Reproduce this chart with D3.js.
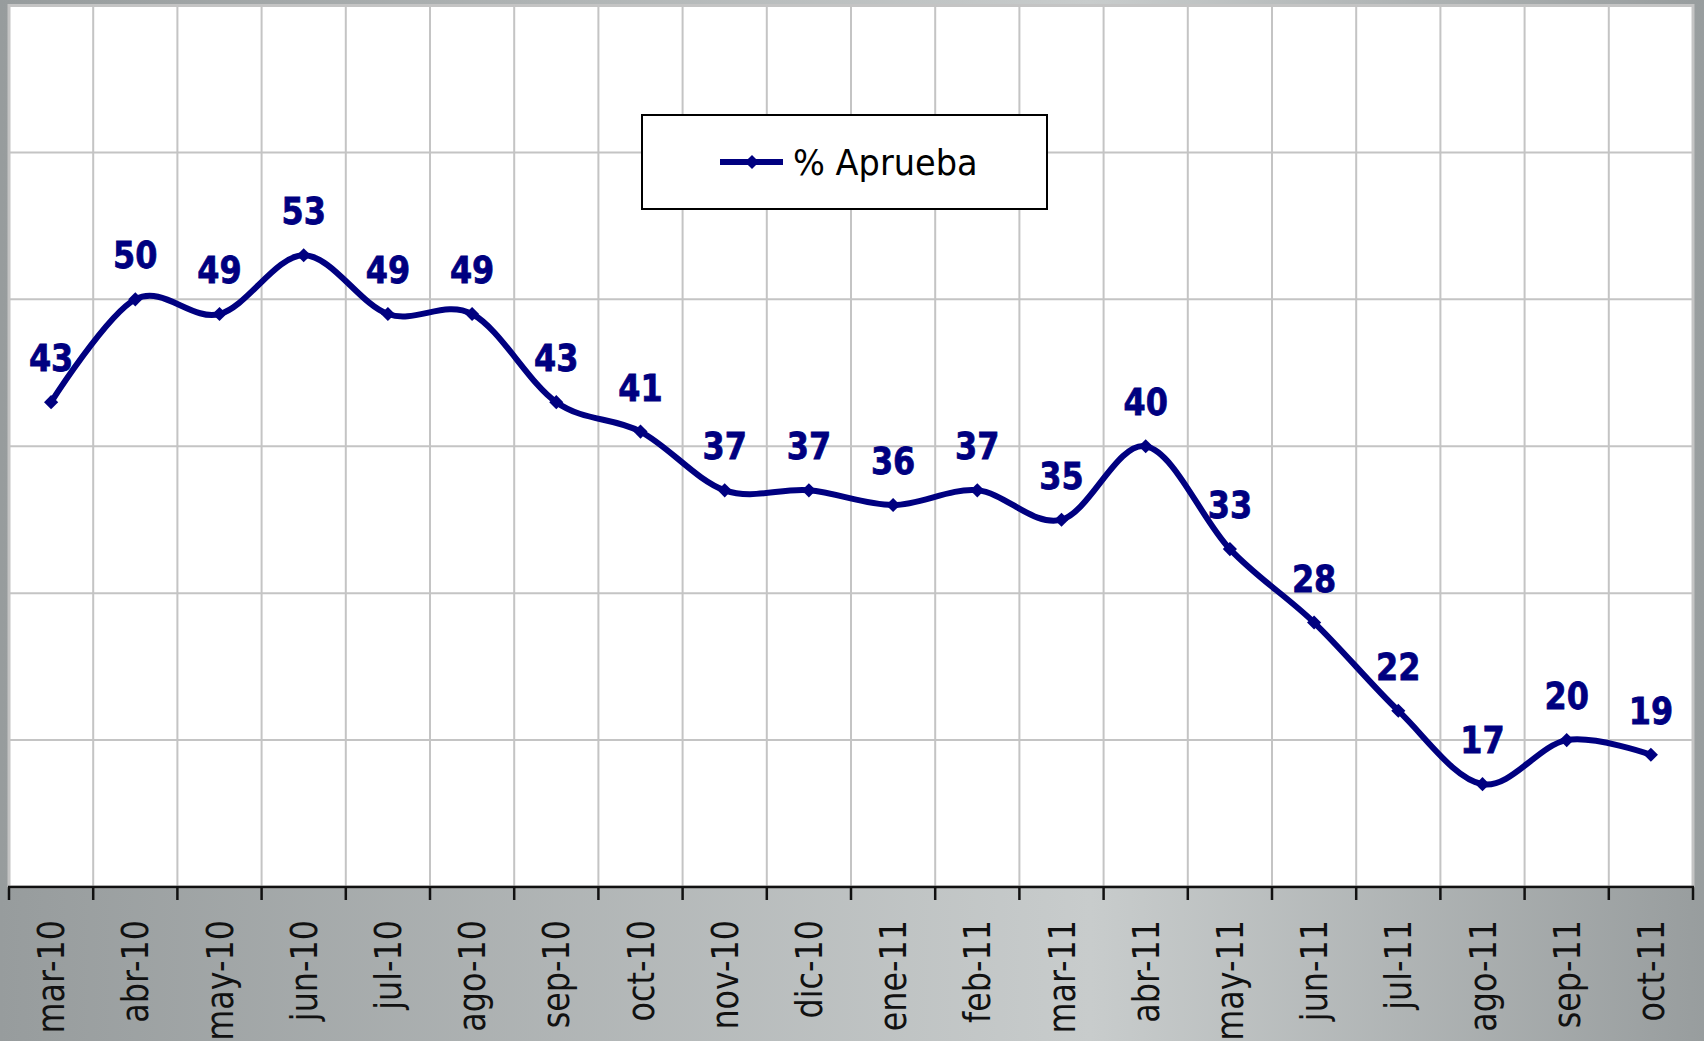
<!DOCTYPE html>
<html>
<head>
<meta charset="utf-8">
<script src="https://cdn.jsdelivr.net/npm/d3@7"></script>
<style>
  html, body { margin: 0; padding: 0; background: #a8adae; }
  svg { display: block; }
</style>
</head>
<body>
<script>
// Monthly approval series
const months = ["mar-10","abr-10","may-10","jun-10","jul-10","ago-10","sep-10","oct-10","nov-10","dic-10",
                "ene-11","feb-11","mar-11","abr-11","may-11","jun-11","jul-11","ago-11","sep-11","oct-11"];
const aprueba = [43,50,49,53,49,49,43,41,37,37,36,37,35,40,33,28,22,17,20,19];
const yGridValues = [20,30,40,50,60];
const seriesName = "% Aprueba";

const W = 1704, H = 1041;
const plot = { left: 9, right: 1693, top: 5.5, bottom: 887 };
const navy = "#000080";

const svg = d3.select("body").append("svg").attr("width", W).attr("height", H);

// Grey backdrop with a soft horizontal sheen
const defs = svg.append("defs");
const grad = defs.append("linearGradient").attr("id", "bg").attr("x1", "0").attr("x2", "1").attr("y1", "0").attr("y2", "0");
grad.append("stop").attr("offset", "0").attr("stop-color", "#979c9d");
grad.append("stop").attr("offset", "0.64").attr("stop-color", "#c8cccc");
grad.append("stop").attr("offset", "1").attr("stop-color", "#989d9e");
svg.append("rect").attr("width", W).attr("height", H).attr("fill", "url(#bg)");

// Plot area
svg.append("rect")
  .attr("x", plot.left).attr("y", plot.top)
  .attr("width", plot.right - plot.left).attr("height", plot.bottom - plot.top)
  .attr("fill", "#ffffff").attr("stroke", "#c4c4c4").attr("stroke-width", 3);

const x = d3.scaleBand().domain(months).range([plot.left, plot.right]).paddingInner(0).paddingOuter(0);
const y = d3.scaleLinear().domain([10, 70]).range([plot.bottom, plot.top]);
const cx = d => x(d) + x.bandwidth() / 2;

// Gridlines
const grid = svg.append("g").attr("stroke", "#c4c4c4").attr("stroke-width", 2);
grid.selectAll("line.h").data(yGridValues).join("line")
  .attr("x1", plot.left).attr("x2", plot.right)
  .attr("y1", d => y(d)).attr("y2", d => y(d));
grid.selectAll("line.v").data(months.slice(1)).join("line")
  .attr("x1", d => x(d)).attr("x2", d => x(d))
  .attr("y1", plot.top).attr("y2", plot.bottom);

// Category axis: ticks at band edges
const axis = svg.append("g").attr("stroke", "#111").attr("stroke-width", 2.5);
axis.append("line").attr("x1", plot.left - 1).attr("x2", plot.right + 1)
  .attr("y1", plot.bottom).attr("y2", plot.bottom);
const edges = months.map(m => x(m)).concat([plot.right]);
axis.selectAll("line.t").data(edges).join("line")
  .attr("x1", d => d).attr("x2", d => d)
  .attr("y1", plot.bottom).attr("y2", plot.bottom + 13);

svg.append("g").selectAll("text").data(months).join("text")
  .attr("transform", d => `translate(${cx(d) + 13},${plot.bottom + 33}) rotate(-90) scale(0.86,1)`)
  .attr("text-anchor", "end")
  .attr("font-family", "'DejaVu Sans', Verdana, sans-serif")
  .attr("font-size", 37)
  .attr("fill", "#111")
  .text(d => d);

// Smoothed series line
const pts = months.map((m, i) => [cx(m), y(aprueba[i])]);
svg.append("path")
  .attr("d", d3.line().curve(d3.curveCardinal.tension(0))(pts))
  .attr("fill", "none").attr("stroke", navy).attr("stroke-width", 6)
  .attr("stroke-linejoin", "round").attr("stroke-linecap", "round");

const diamond = d3.symbol(d3.symbolSquare, 100);
svg.append("g").selectAll("path").data(pts).join("path")
  .attr("d", diamond)
  .attr("transform", p => `translate(${p[0]},${p[1]}) rotate(45)`)
  .attr("fill", navy);

// Value labels
svg.append("g").selectAll("text").data(months).join("text")
  .attr("transform", (d, i) => `translate(${cx(d)},${y(aprueba[i]) - 31}) scale(0.84,1)`)
  .attr("text-anchor", "middle")
  .attr("font-family", "'DejaVu Sans', Verdana, sans-serif")
  .attr("font-weight", "bold")
  .attr("font-size", 38)
  .attr("fill", navy)
  .attr("stroke", navy).attr("stroke-width", 0.8)
  .text((d, i) => aprueba[i]);

// Legend
const lg = svg.append("g");
lg.append("rect").attr("x", 642).attr("y", 115).attr("width", 405).attr("height", 94)
  .attr("fill", "#fff").attr("stroke", "#000").attr("stroke-width", 2);
lg.append("line").attr("x1", 720).attr("x2", 783).attr("y1", 162).attr("y2", 162)
  .attr("stroke", navy).attr("stroke-width", 6);
lg.append("path").attr("d", diamond).attr("transform", "translate(752,162) rotate(45)").attr("fill", navy);
lg.append("text")
  .attr("transform", "translate(793,175) scale(0.96,1)")
  .attr("font-family", "'DejaVu Sans', Verdana, sans-serif")
  .attr("font-size", 35)
  .attr("fill", "#000")
  .text(seriesName);
</script>
</body>
</html>
